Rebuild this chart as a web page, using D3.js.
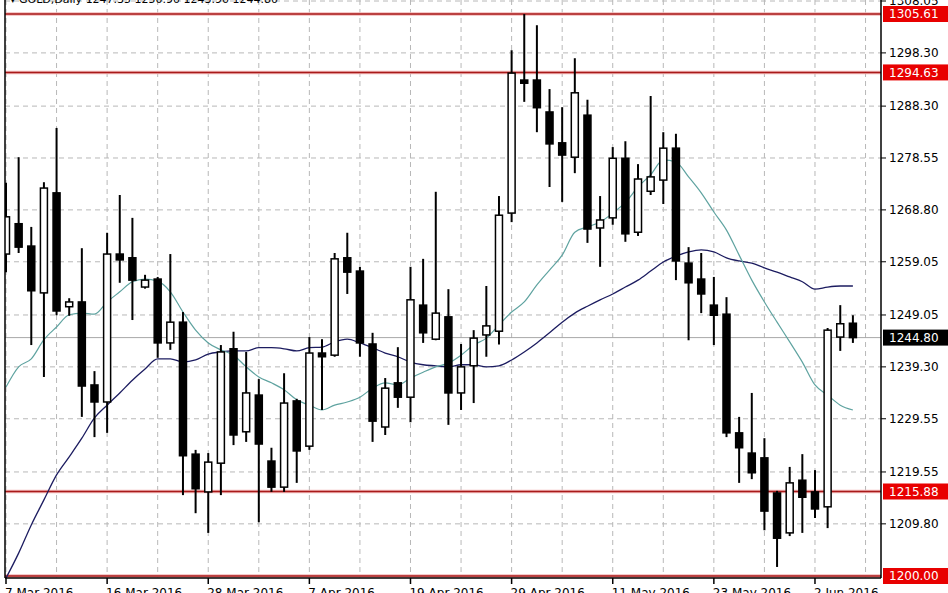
<!DOCTYPE html>
<html>
<head>
<meta charset="utf-8">
<script src="https://cdn.jsdelivr.net/npm/d3@7"></script>
<style>
  body { margin: 0; background: #fff; }
  svg { display: block; font-family: "DejaVu Sans", sans-serif; }
</style>
</head>
<body>
<script>
// GOLD daily candles, 7 Mar 2016 .. 3 Jun 2016
var open = [1260.5,1266.2,1262.0,1253.2,1272.0,1250.6,1251.5,1235.9,1232.7,1260.5,
  1259.8,1254.3,1255.8,1243.8,1247.7,1222.9,1215.8,1221.2,1242.7,1227.1,
  1234.0,1221.6,1216.7,1232.9,1224.4,1241.9,1241.5,1259.8,1257.3,1243.6,
  1228.0,1236.3,1233.6,1250.9,1244.5,1248.7,1234.4,1239.5,1245.3,1246.0,
  1268.2,1293.2,1293.2,1287.2,1281.4,1278.7,1286.6,1265.4,1267.3,1278.5,
  1264.6,1272.3,1274.4,1280.4,1258.8,1255.8,1250.9,1249.2,1226.9,1223.1,
  1222.2,1215.6,1208.1,1218.0,1215.8,1213.0,1244.9,1247.5];
var high = [1273.9,1278.7,1265.6,1274.0,1284.2,1252.2,1261.6,1238.5,1264.5,1271.6,
  1267.3,1256.6,1256.2,1260.5,1249.6,1223.7,1223.1,1243.4,1245.9,1242.1,
  1237.0,1224.1,1238.1,1233.3,1244.9,1244.5,1260.7,1264.5,1258.1,1245.7,
  1237.2,1243.0,1258.1,1259.6,1272.2,1253.9,1243.6,1246.2,1254.5,1271.4,
  1298.8,1305.6,1303.5,1291.5,1288.1,1297.3,1289.5,1271.4,1280.6,1281.7,
  1277.4,1290.2,1283.4,1283.1,1261.8,1260.7,1256.2,1252.4,1229.9,1234.4,
  1225.9,1216.0,1220.5,1222.9,1219.9,1246.6,1250.9,1249.0];
var low = [1257.1,1260.7,1243.4,1237.4,1249.0,1248.9,1229.9,1226.1,1226.9,1255.1,
  1248.1,1254.0,1241.0,1242.5,1215.2,1211.8,1208.1,1215.2,1224.6,1225.2,
  1210.1,1215.8,1215.8,1217.5,1223.7,1231.2,1241.2,1253.0,1241.2,1225.2,
  1226.5,1231.6,1228.9,1243.8,1244.3,1228.4,1231.2,1232.5,1241.2,1243.5,
  1266.5,1289.1,1283.4,1273.1,1270.3,1275.7,1262.6,1258.1,1266.0,1262.8,
  1263.9,1271.6,1269.9,1255.6,1244.3,1249.4,1243.4,1226.1,1217.5,1218.2,
  1208.6,1201.7,1207.5,1208.1,1210.9,1209.0,1242.3,1243.8];
var close = [1267.5,1261.8,1253.6,1272.9,1249.8,1251.5,1235.7,1232.7,1260.5,1259.4,
  1255.6,1255.6,1243.8,1247.7,1222.6,1216.4,1221.4,1242.1,1226.5,1234.4,
  1224.8,1216.7,1232.5,1223.5,1241.9,1241.2,1259.6,1257.1,1243.8,1229.1,
  1235.3,1233.6,1251.9,1245.7,1249.4,1234.4,1239.3,1244.7,1247.0,1267.8,
  1294.5,1292.6,1288.0,1281.2,1279.1,1290.8,1265.2,1266.9,1278.5,1264.3,
  1274.6,1275.0,1280.4,1259.2,1255.1,1253.0,1249.0,1226.9,1224.1,1219.4,
  1212.2,1207.1,1217.5,1214.8,1212.6,1246.2,1247.4,1244.8];

// moving averages
var maFast = [1235.5,1239.3,1240.8,1244.4,1246.8,1249.1,1249.4,1249.2,1251.5,1253.4,
  1255.3,1255.8,1255.4,1253.4,1249.6,1246.2,1243.8,1242.5,1241.5,1239.3,
  1237.4,1236.3,1235.0,1233.1,1232.1,1231.2,1232.1,1232.7,1233.6,1235.3,
  1236.3,1235.9,1237.2,1238.3,1239.3,1240.0,1241.5,1243.4,1244.7,1247.2,
  1249.6,1251.5,1254.7,1257.5,1260.3,1264.6,1265.6,1266.5,1268.2,1270.2,
  1273.1,1275.4,1278.2,1277.8,1275.0,1272.0,1268.4,1265.0,1260.3,1255.6,
  1251.5,1247.7,1244.0,1240.2,1235.9,1234.0,1232.1,1231.2];
var maSlow = [1199.6,1204.3,1209.6,1214.3,1219.0,1222.4,1225.9,1229.7,1232.1,1234.4,
  1236.8,1238.9,1240.8,1240.8,1240.2,1240.6,1241.7,1242.1,1242.3,1242.3,
  1242.9,1242.9,1242.7,1242.3,1242.9,1243.0,1244.0,1244.5,1243.8,1242.9,
  1241.9,1241.2,1240.2,1239.7,1239.5,1239.3,1239.7,1239.7,1239.3,1239.5,
  1240.6,1242.1,1243.8,1245.7,1247.7,1249.4,1250.7,1251.9,1253.0,1254.3,
  1255.6,1257.3,1259.0,1260.1,1260.9,1261.3,1260.9,1259.8,1259.2,1258.8,
  1257.9,1257.1,1256.2,1255.3,1253.9,1254.3,1254.5,1254.5];

var priceTicks = [1308.05,1298.30,1288.30,1278.55,1268.80,1259.05,1249.05,1239.30,1229.55,1219.55,1209.80];
var levels = [1305.61,1294.63,1215.88,1200.00];
var lastPrice = 1244.80;
var dateLabels = ["7 Mar 2016","16 Mar 2016","28 Mar 2016","7 Apr 2016","19 Apr 2016",
  "29 Apr 2016","11 May 2016","23 May 2016","2 Jun 2016"];
var labelEvery = 8;   // bars between date labels
var gridEvery = 4;    // bars between vertical grid lines

var width = 948, height = 593;
var plotLeft = 5, plotRight = 881, plotTop = 0, plotBottom = 578;

var svg = d3.select("body").append("svg")
  .attr("width", width)
  .attr("height", height);

var x = d3.scaleLinear().domain([0, open.length - 1]).range([6, 852.9]);
var y = d3.scaleLinear().domain([1200, 1305.61]).range([576, 14]);

svg.append("clipPath").attr("id", "plot")
  .append("rect").attr("x", plotLeft).attr("y", plotTop)
  .attr("width", plotRight - plotLeft).attr("height", plotBottom - plotTop);

var plot = svg.append("g").attr("clip-path", "url(#plot)");

// grid
var vgrid = d3.range(0, open.length + 4, gridEvery);
plot.selectAll(".vg").data(vgrid).enter().append("line")
  .attr("x1", d => x(d)).attr("x2", d => x(d))
  .attr("y1", plotTop).attr("y2", plotBottom)
  .attr("stroke", "#b8b8b8").attr("stroke-dasharray", "5,4");
plot.selectAll(".hg").data(priceTicks).enter().append("line")
  .attr("x1", plotLeft).attr("x2", plotRight)
  .attr("y1", d => y(d)).attr("y2", d => y(d))
  .attr("stroke", "#b8b8b8").attr("stroke-dasharray", "5,4");

// last price line
plot.append("line")
  .attr("x1", plotLeft).attr("x2", plotRight)
  .attr("y1", y(lastPrice)).attr("y2", y(lastPrice))
  .attr("stroke", "#a8a8a8").attr("stroke-width", 1);

// support / resistance levels
plot.selectAll(".lvh").data(levels).enter().append("line")
  .attr("x1", plotLeft).attr("x2", plotRight)
  .attr("y1", d => y(d)).attr("y2", d => y(d))
  .attr("stroke", "#f2b8b8").attr("stroke-width", 3.5);
plot.selectAll(".lv").data(levels).enter().append("line")
  .attr("x1", plotLeft).attr("x2", plotRight)
  .attr("y1", d => y(d)).attr("y2", d => y(d))
  .attr("stroke", "#a81a1a").attr("stroke-width", 1.5);

// moving averages
var lineFn = d3.line().x((d, i) => x(i)).y(d => y(d)).curve(d3.curveMonotoneX);
plot.append("path").datum(maSlow).attr("d", lineFn)
  .attr("fill", "none").attr("stroke", "#1c1c60").attr("stroke-width", 1.3);
plot.append("path").datum(maFast).attr("d", lineFn)
  .attr("fill", "none").attr("stroke", "#5fa3a0").attr("stroke-width", 1.2);

// candles
var bars = d3.range(open.length);
plot.selectAll(".wick").data(bars).enter().append("line")
  .attr("x1", i => x(i)).attr("x2", i => x(i))
  .attr("y1", i => y(high[i])).attr("y2", i => y(low[i]))
  .attr("stroke", "#000").attr("stroke-width", 2);
var bw = 7;
plot.selectAll(".body").data(bars).enter().append("rect")
  .attr("x", i => x(i) - bw / 2)
  .attr("y", i => y(Math.max(open[i], close[i])))
  .attr("width", bw)
  .attr("height", i => Math.max(1.5, Math.abs(y(open[i]) - y(close[i]))))
  .attr("fill", i => close[i] >= open[i] ? "#fff" : "#000")
  .attr("stroke", "#000").attr("stroke-width", 1.5);

// frame
svg.append("line").attr("x1", plotLeft).attr("x2", plotLeft).attr("y1", plotTop).attr("y2", plotBottom)
  .attr("stroke", "#000").attr("stroke-width", 1.5);
svg.append("line").attr("x1", plotRight).attr("x2", plotRight).attr("y1", plotTop).attr("y2", plotBottom)
  .attr("stroke", "#000").attr("stroke-width", 1.5);
svg.append("line").attr("x1", plotLeft).attr("x2", plotRight).attr("y1", plotBottom).attr("y2", plotBottom)
  .attr("stroke", "#000").attr("stroke-width", 1.5);

// price axis
var pa = svg.append("g");
pa.selectAll(".pt").data(priceTicks).enter().append("line")
  .attr("x1", plotRight).attr("x2", plotRight + 5)
  .attr("y1", d => y(d)).attr("y2", d => y(d))
  .attr("stroke", "#000");
pa.selectAll(".pl").data(priceTicks).enter().append("text")
  .attr("x", plotRight + 8).attr("y", d => y(d))
  .attr("dy", "0.35em").attr("font-size", 12).attr("fill", "#000")
  .text(d => d.toFixed(2));

// level tags
var tags = levels.map(v => ({v: v, bg: "#e80000"})).concat([{v: lastPrice, bg: "#000"}]);
pa.selectAll(".tagr").data(tags).enter().append("rect")
  .attr("x", plotRight + 2).attr("y", d => y(d.v) - 8)
  .attr("width", width - plotRight - 2).attr("height", 16)
  .attr("fill", d => d.bg);
pa.selectAll(".tagt").data(tags).enter().append("text")
  .attr("x", plotRight + 8).attr("y", d => y(d.v))
  .attr("dy", "0.35em").attr("font-size", 12).attr("fill", "#fff")
  .text(d => d.v.toFixed(2));

// time axis
var ta = svg.append("g");
ta.selectAll(".tt").data(dateLabels).enter().append("line")
  .attr("x1", (d, k) => x(k * labelEvery)).attr("x2", (d, k) => x(k * labelEvery))
  .attr("y1", plotBottom).attr("y2", plotBottom + 6)
  .attr("stroke", "#000").attr("stroke-width", 1.5);
ta.selectAll(".tl").data(dateLabels).enter().append("text")
  .attr("x", (d, k) => x(k * labelEvery) - 1).attr("y", plotBottom + 19)
  .attr("font-size", 12).attr("fill", "#000")
  .text(d => d);

// title (cut at top edge like the original window)
svg.append("text").attr("x", 10).attr("y", 3)
  .attr("font-size", 11).attr("fill", "#000")
  .text("\u25BE GOLD,Daily  1247.35 1250.90 1243.90 1244.80");
</script>
</body>
</html>
